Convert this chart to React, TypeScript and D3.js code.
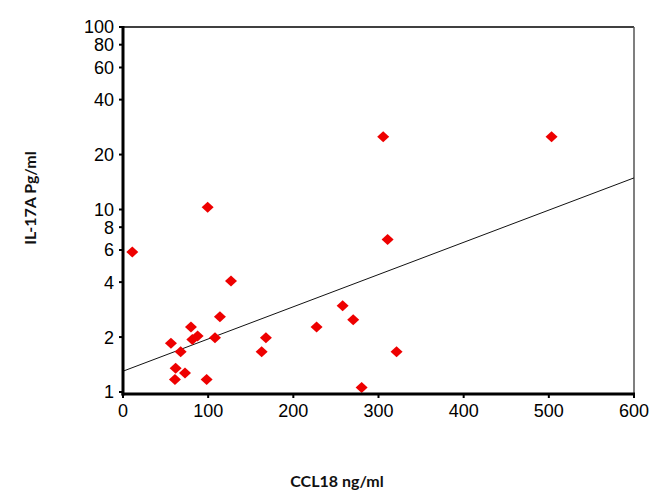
import React from "react";
import * as d3 from "d3";

const ccl18: number[] = [10.9, 99.4, 126.8, 113.8, 79.8, 56.3, 81.4, 87.6, 108, 67.7, 61.8, 72.8, 61, 98.2, 162.8, 167.8, 227.3, 257.9, 270.3, 310.7, 321.2, 280.2, 305.5, 503.2];
const il17a: number[] = [5.85, 10.3, 4.06, 2.58, 2.27, 1.85, 1.94, 2.03, 1.98, 1.66, 1.35, 1.27, 1.17, 1.17, 1.66, 1.98, 2.27, 2.97, 2.49, 6.85, 1.66, 1.06, 25.0, 25.0];
const fitX: number[] = [0, 600];
const fitY: number[] = [1.3, 14.9];
const xTicks: number[] = [0, 100, 200, 300, 400, 500, 600];
const yTicks: number[] = [1, 2, 4, 6, 8, 10, 20, 40, 60, 80, 100];
const xTitle = "CCL18 ng/ml";
const yTitle = "IL-17A Pg/ml";

export default function App() {
  const W = 654, H = 491;
  const left = 123, right = 634, top = 27, bottom = 394;
  const x = d3.scaleLinear().domain([0, 600]).range([left, right]);
  const y = d3.scaleLog().domain([0.975, 100]).range([bottom, top]);
  const line = d3.line<number>()
    .x((_, i) => x(fitX[i]))
    .y((_, i) => y(fitY[i]));
  const diamond = (cx: number, cy: number) =>
    `M${cx},${cy - 5.5}L${cx + 6},${cy}L${cx},${cy + 5.5}L${cx - 6},${cy}Z`;
  const tickFont = "'Liberation Sans', Arial, sans-serif";
  const titleFont = "Lato, 'Open Sans', sans-serif";
  return (
    <svg width={W} height={H} style={{ position: "absolute", left: 0, top: 0, background: "#fff" }}>
      <rect x={0} y={0} width={W} height={H} fill="#fff" />
      {/* frame top and right */}
      <line x1={left} x2={right} y1={top} y2={top} stroke="#000" strokeWidth={1.5} />
      <line x1={right} x2={right} y1={top} y2={bottom} stroke="#555" strokeWidth={1.5} />
      {/* regression line */}
      <path d={line(fitX) || ""} fill="none" stroke="#111" strokeWidth={1} />
      {/* points */}
      {ccl18.map((v, i) => (
        <path key={i} d={diamond(x(v), y(il17a[i]))} fill="#ee0000" />
      ))}
      {/* y axis */}
      <line x1={left} x2={left} y1={top - 1} y2={bottom + 1.5} stroke="#000" strokeWidth={3} />
      {yTicks.map((t) => (
        <g key={t}>
          <line x1={left - 4} x2={left} y1={y(t)} y2={y(t)} stroke="#000" strokeWidth={2} />
          <text x={left - 9} y={y(t)} dy="0.36em" textAnchor="end" fontFamily={tickFont} fontSize={18} fill="#000">
            {t}
          </text>
        </g>
      ))}
      {/* x axis */}
      <line x1={left - 1.5} x2={right + 1} y1={bottom} y2={bottom} stroke="#000" strokeWidth={3} />
      {xTicks.map((t) => (
        <g key={t}>
          <line x1={x(t)} x2={x(t)} y1={bottom} y2={bottom + 4} stroke="#000" strokeWidth={2} />
          <text x={x(t)} y={417} textAnchor="middle" fontFamily={tickFont} fontSize={18} fill="#000">
            {t}
          </text>
        </g>
      ))}
      {/* titles */}
      <text x={337} y={487} textAnchor="middle" fontFamily={titleFont} fontWeight={700} fontSize={16} fill="#111">
        {xTitle}
      </text>
      <text transform={`translate(36,198) rotate(-90)`} textAnchor="middle" fontFamily={titleFont} fontWeight={700} fontSize={16} fill="#111">
        {yTitle}
      </text>
    </svg>
  );
}
